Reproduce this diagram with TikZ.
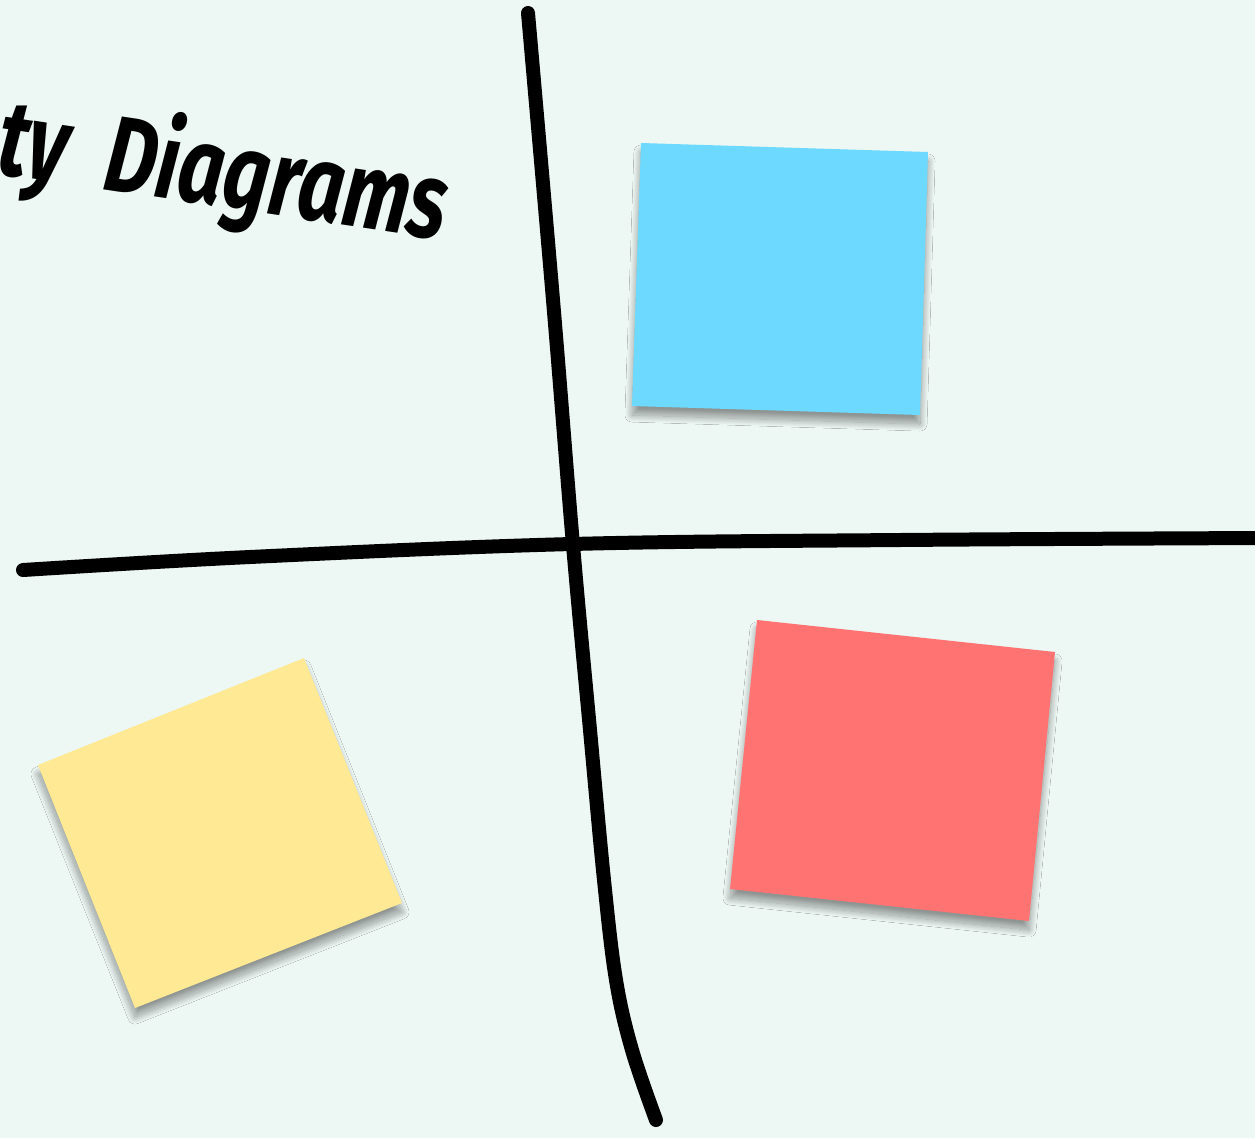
\documentclass[tikz,border=0pt]{standalone}
\usepackage{fontspec}
\setmainfont{Fira Sans}
\usetikzlibrary{shadows.blur}
\definecolor{bgc}{RGB}{237,247,243}
\definecolor{noteblue}{RGB}{109,217,254}
\definecolor{noteyellow}{RGB}{255,233,148}
\definecolor{notered}{RGB}{255,115,115}
\tikzset{
  note/.style={blur shadow={shadow xshift=0pt, shadow yshift=-9pt, shadow blur radius=7pt, shadow opacity=40, shadow blur steps=25}},
  pen/.style={line width=14pt, line cap=round, line join=round, draw=black},
}
\begin{document}
\begin{tikzpicture}[x=1pt,y=-1pt]
\fill[bgc] (0,0) rectangle (1255,1138);
\useasboundingbox (0,0) rectangle (1255,1138);
% notes
\coordinate (b1) at (641,143); \coordinate (b2) at (928,152);
\coordinate (b3) at (920,415); \coordinate (b4) at (632,406);
\fill[noteblue, note] (b1) -- (b2) -- (b3) -- (b4) -- cycle;
\coordinate (y1) at (38,765); \coordinate (y2) at (304,658);
\coordinate (y3) at (402,903); \coordinate (y4) at (135,1008);
\fill[noteyellow, note] (y1) -- (y2) -- (y3) -- (y4) -- cycle;
\coordinate (r1) at (757,620); \coordinate (r2) at (1055,652);
\coordinate (r3) at (1029,921); \coordinate (r4) at (730,889);
\fill[notered, note] (r1) -- (r2) -- (r3) -- (r4) -- cycle;
% lines
\draw[pen] plot[smooth, tension=0.6] coordinates {(528,13) (553,300) (573,545) (590,730) (604,880) (616,980) (632,1050) (656,1120)};
\draw[pen] plot[smooth, tension=0.6] coordinates {(23,570) (250,557) (572,544) (900,540) (1265,538)};
% title
\node[anchor=base west, rotate=-8.5, inner sep=0pt, xscale=0.74] (title) at (-6,173)
  {\fontsize{108}{108}\selectfont\bfseries\itshape ty\hspace{0.26em} Diagrams};
\end{tikzpicture}
\end{document}
